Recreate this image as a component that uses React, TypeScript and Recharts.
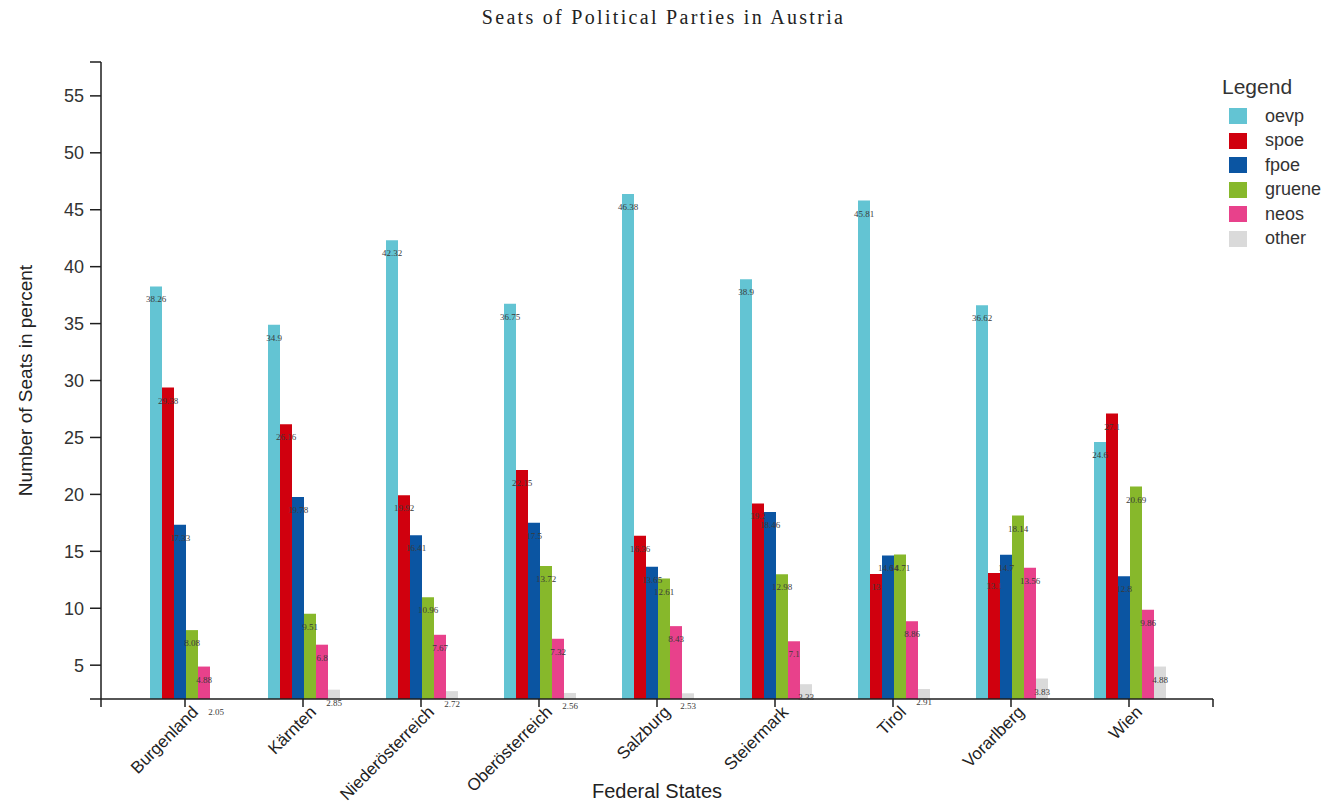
import { Bar, BarChart, LabelList, XAxis, YAxis } from "recharts";

const states = [
  "Burgenland",
  "Kärnten",
  "Niederösterreich",
  "Oberösterreich",
  "Salzburg",
  "Steiermark",
  "Tirol",
  "Vorarlberg",
  "Wien",
];
const oevp = [38.26, 34.9, 42.32, 36.75, 46.38, 38.9, 45.81, 36.62, 24.6];
const spoe = [29.38, 26.16, 19.92, 22.15, 16.36, 19.2, 13.0, 13.1, 27.1];
const fpoe = [17.33, 19.78, 16.41, 17.5, 13.65, 18.46, 14.64, 14.7, 12.8];
const gruene = [8.08, 9.51, 10.96, 13.72, 12.61, 12.98, 14.71, 18.14, 20.69];
const neos = [4.88, 6.8, 7.67, 7.32, 8.43, 7.1, 8.86, 13.56, 9.86];
const other = [2.05, 2.85, 2.72, 2.56, 2.53, 3.33, 2.91, 3.83, 4.88];

const parties = ["oevp", "spoe", "fpoe", "gruene", "neos", "other"];
const partyColors = ["#63c4d3", "#d0000e", "#0b55a2", "#87b82b", "#e8418b", "#dadada"];
const yTicks = [5, 10, 15, 20, 25, 30, 35, 40, 45, 50, 55];

const allValues = [...oevp, ...spoe, ...fpoe, ...gruene, ...neos, ...other];
// tiny slack so the smallest bar still gets its label
const yMin = Math.min(...allValues) - 0.02;
const yMax = Math.max(...allValues) * 1.25;

const data = states.map((state, i) => ({
  state,
  oevp: oevp[i],
  spoe: spoe[i],
  fpoe: fpoe[i],
  gruene: gruene[i],
  neos: neos[i],
  other: other[i],
}));

const AXIS = "#1e1e1e";
const SANS = "'Liberation Sans', Arial, sans-serif";
const SERIF = "'Liberation Serif', 'Times New Roman', serif";

function ValueLabel(props: any) {
  const { x, y, width, value } = props;
  return (
    <text
      x={Number(x) + Number(width) / 2}
      y={Number(y) + 13}
      textAnchor="middle"
      dominantBaseline="central"
      fontFamily={SERIF}
      fontSize={9}
      fill="#3a3a3a"
    >
      {value}
    </text>
  );
}

function StateTick(props: any) {
  const { x, y, payload } = props;
  return (
    <g transform={`translate(${x},${y - 8})`}>
      <text
        transform="rotate(-45)"
        x={0}
        y={20}
        textAnchor="end"
        fontFamily={SANS}
        fontSize={17}
        fill="#222"
      >
        {payload.value}
      </text>
    </g>
  );
}

function YTitle(props: any) {
  const { viewBox } = props;
  const cy = viewBox.y + viewBox.height / 2;
  return (
    <text
      x={25}
      y={cy}
      transform={`rotate(-90, 25, ${cy})`}
      textAnchor="middle"
      dominantBaseline="central"
      fontFamily={SANS}
      fontSize={19}
      fill="#222"
    >
      Number of Seats in percent
    </text>
  );
}

export default function App() {
  return (
    <div
      style={{
        position: "absolute",
        left: 0,
        top: 0,
        width: 1327,
        height: 801,
        background: "#fff",
      }}
    >
      <div
        style={{
          position: "absolute",
          left: 0,
          width: 1327,
          top: 6,
          textAlign: "center",
          fontFamily: SERIF,
          fontSize: 20,
          letterSpacing: 2.3,
          color: "#222",
        }}
      >
        Seats of Political Parties in Austria
      </div>

      <BarChart
        width={1327}
        height={801}
        data={data}
        margin={{ top: 62, right: 114, bottom: 0, left: 0 }}
        barCategoryGap={24}
        barGap={0}
      >
        <XAxis
          dataKey="state"
          height={102}
          padding={{ left: 25, right: 25 }}
          tickSize={8}
          tickMargin={0}
          interval={0}
          axisLine={{ stroke: AXIS, strokeWidth: 1.5 }}
          tickLine={{ stroke: AXIS, strokeWidth: 1.5 }}
          tick={<StateTick />}
          label={{
            value: "Federal States",
            position: "insideBottom",
            offset: 3,
            fill: "#222",
            fontSize: 20,
            fontFamily: SANS,
          }}
        />
        <YAxis
          type="number"
          domain={[yMin, yMax]}
          ticks={yTicks}
          width={101}
          tickSize={11}
          tickMargin={6}
          axisLine={{ stroke: AXIS, strokeWidth: 1.5 }}
          tickLine={{ stroke: AXIS, strokeWidth: 1.5 }}
          tick={{ fill: "#333", fontSize: 18, fontFamily: SANS }}
          label={<YTitle />}
        />
        {parties.map((p, i) => (
          <Bar key={p} dataKey={p} fill={partyColors[i]} isAnimationActive={false}>
            <LabelList dataKey={p} content={<ValueLabel />} />
          </Bar>
        ))}
      </BarChart>

      {/* outer ticks of the axes */}
      <svg
        width={1327}
        height={801}
        style={{ position: "absolute", left: 0, top: 0, pointerEvents: "none" }}
      >
        <line x1={90} y1={62} x2={101} y2={62} stroke={AXIS} strokeWidth={1.5} />
        <line x1={90} y1={699} x2={101} y2={699} stroke={AXIS} strokeWidth={1.5} />
        <line x1={101} y1={699} x2={101} y2={707} stroke={AXIS} strokeWidth={1.5} />
        <line x1={1213} y1={699} x2={1213} y2={707} stroke={AXIS} strokeWidth={1.5} />
      </svg>

      <div
        style={{
          position: "absolute",
          left: 1222,
          top: 74,
          fontFamily: SANS,
          color: "#333",
        }}
      >
        <div style={{ fontSize: 21, lineHeight: "26px", marginBottom: 4 }}>Legend</div>
        {parties.map((p, i) => (
          <div
            key={p}
            style={{ display: "flex", alignItems: "center", height: 24.5, marginLeft: 7 }}
          >
            <span
              style={{
                display: "inline-block",
                width: 18,
                height: 16,
                background: partyColors[i],
                marginRight: 18,
              }}
            />
            <span style={{ fontSize: 18 }}>{p}</span>
          </div>
        ))}
      </div>
    </div>
  );
}
